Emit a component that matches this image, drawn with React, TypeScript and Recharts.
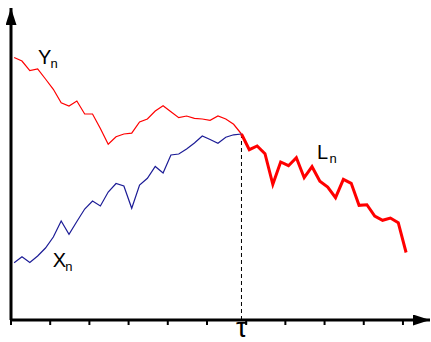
import React from 'react';
import { LineChart, Line, XAxis, YAxis, ReferenceLine, ReferenceDot } from 'recharts';

// step index n
const STEPS: number[] = Array.from({ length: 51 }, (_, i) => i);
// Y_n (upper red, thin) for n = 0..29
const Y_VALUES = [262.5, 259, 249.3, 251, 241, 230.7, 217.3, 214, 219, 206, 206, 191.5, 175.7, 183.3, 186, 186.8, 198, 201, 209, 214.2, 208.3, 202.3, 204, 201.7, 201, 199.7, 204, 201, 195.7, 186];
// X_n (blue, thin) for n = 0..29
const X_VALUES = [57.3, 63.3, 57.5, 64, 72, 83, 99, 85.7, 98.5, 111, 119, 114, 128, 136.5, 134, 111.7, 135, 141.7, 153.5, 147, 165, 166, 171, 177, 184, 180.5, 176.7, 182.7, 185.2, 186];
// L_n (thick red) for n = 29..50
const L_VALUES = [186, 170.3, 174, 166.3, 135.7, 158, 154.3, 162.3, 142.3, 153.3, 138.7, 133, 122.3, 140.7, 136.7, 114.7, 115.3, 104, 99.7, 102, 97.3, 67.5];
const TAU = 29;
const X_TICKS = [-0.4, 4.6, 9.6, 14.6, 19.6, 24.6, 29.6, 34.6, 39.6, 44.6, 49.6];

const data = STEPS.map((n) => ({
  n,
  y: n <= TAU ? Y_VALUES[n] : null,
  x: n <= TAU ? X_VALUES[n] : null,
  l: n >= TAU ? L_VALUES[n - TAU] : null,
}));

const FONT = '"Liberation Sans", Arial, sans-serif';

function SubLabel(props: any) {
  const { viewBox, main, sub } = props;
  const cx = viewBox.x + viewBox.width / 2;
  const cy = viewBox.y + viewBox.height / 2;
  return (
    <g>
      <text x={cx} y={cy} fontSize={20} fontFamily={FONT} fill="#000">{main}</text>
      <text x={cx + 12.5} y={cy + 3.5} fontSize={13} fontFamily={FONT} fill="#000">{sub}</text>
    </g>
  );
}

function TauLabel(props: any) {
  const { viewBox } = props;
  const cx = viewBox.x + viewBox.width / 2;
  const cy = viewBox.y + viewBox.height / 2;
  return (
    <text x={cx} y={cy + 16.5} fontSize={28} fontFamily={FONT} fill="#000" textAnchor="middle">τ</text>
  );
}

export default function App() {
  return (
    <div style={{ position: 'absolute', left: 0, top: 0, width: 431, height: 342, background: '#fff' }}>
      <svg width={0} height={0} style={{ position: 'absolute' }}>
        <defs>
          <marker id="axisArrow" markerUnits="userSpaceOnUse" markerWidth={20} markerHeight={12} refX={17} refY={5.5} orient="auto-start-reverse">
            <path d="M0,0 L17,5.5 L0,11 Z" fill="#000" />
          </marker>
        </defs>
      </svg>
      <LineChart width={431} height={342} data={data} margin={{ top: 8, right: 1, bottom: 0, left: 0 }}>
        <XAxis
          dataKey="n"
          type="number"
          domain={[-0.4, 53.05]}
          ticks={X_TICKS}
          interval={0}
          height={22}
          axisLine={{ stroke: '#000', strokeWidth: 3, markerEnd: 'url(#axisArrow)' }}
          tickLine={{ stroke: '#000', strokeWidth: 2 }}
          tickSize={5}
          tickFormatter={() => ''}
        />
        <YAxis
          type="number"
          domain={[0, 312]}
          width={11}
          axisLine={{ stroke: '#000', strokeWidth: 3, markerStart: 'url(#axisArrow)' }}
          tickLine={false}
          tickFormatter={() => ''}
        />
        <ReferenceLine
          segment={[{ x: TAU, y: X_VALUES[TAU] }, { x: TAU, y: 0 }]}
          stroke="#000"
          strokeWidth={1}
          strokeDasharray="4 3"
        />
        <Line dataKey="y" type="linear" stroke="#ff0000" strokeWidth={1.2} dot={false} isAnimationActive={false} connectNulls={false} />
        <Line dataKey="x" type="linear" stroke="#1c1c96" strokeWidth={1.2} dot={false} isAnimationActive={false} connectNulls={false} />
        <Line dataKey="l" type="linear" stroke="#ff0000" strokeWidth={3} dot={false} isAnimationActive={false} connectNulls={false} strokeLinejoin="miter" />
        <ReferenceDot x={3.04} y={256} r={1} fill="none" stroke="none" label={<SubLabel main="Y" sub="n" />} />
        <ReferenceDot x={4.94} y={53} r={1} fill="none" stroke="none" label={<SubLabel main="X" sub="n" />} />
        <ReferenceDot x={38.64} y={161} r={1} fill="none" stroke="none" label={<SubLabel main="L" sub="n" />} />
        <ReferenceDot x={TAU} y={0} r={1} fill="none" stroke="none" label={<TauLabel />} />
      </LineChart>
    </div>
  );
}
